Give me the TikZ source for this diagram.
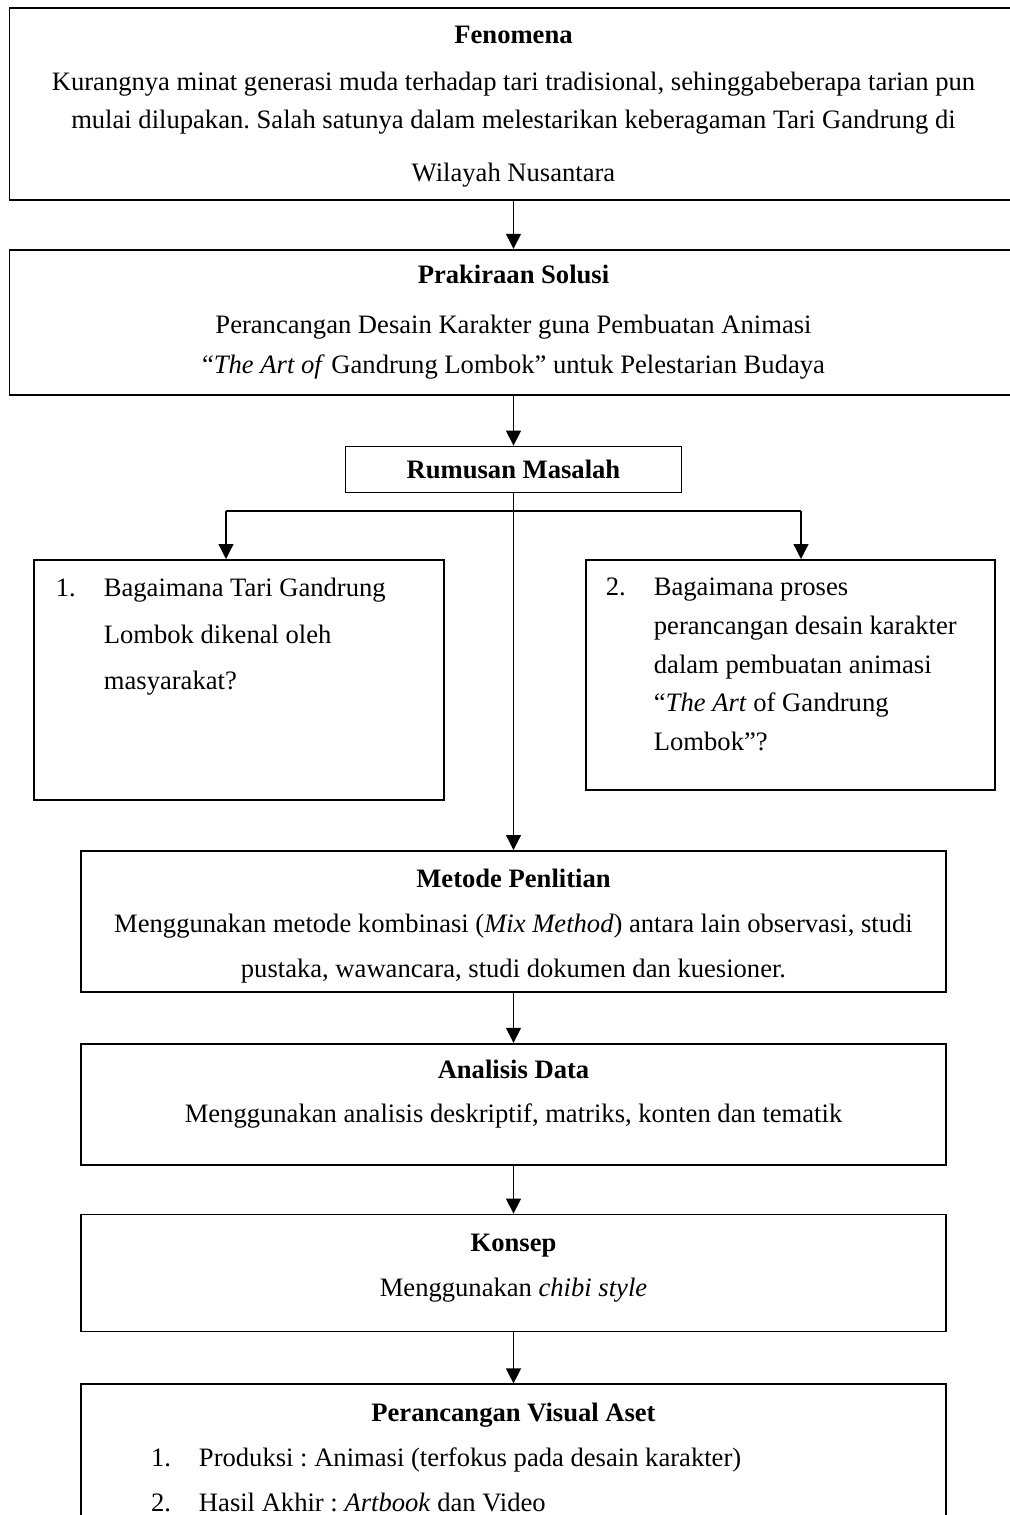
\documentclass[tikz,border=0pt]{standalone}
\usepackage{fontspec}
\setmainfont{Liberation Serif}
\usetikzlibrary{arrows.meta, positioning}
\frenchspacing

\newcommand{\butir}[1]{\makebox[24pt][l]{#1}}
\newcommand{\lanjut}{\hspace*{24pt}}
\newcommand{\ruang}[1]{\rule[-#1]{0pt}{#1}}

\tikzset{
    kotak/.style={rectangle, draw, line width=0.9pt, inner sep=0pt, align=center,
        font=\fontsize{13.3pt}{19pt}\selectfont},
    daftar/.style={kotak, align=flush left, execute at begin node={\parindent=0pt}},
    panah/.style={-{Triangle[width=7.5pt, length=7.5pt]}, line width=0.65pt},
    garis/.style={line width=0.65pt}
}

\begin{document}
\begin{tikzpicture}[x=0.5pt, y=-0.5pt]
    \useasboundingbox (0,0) rectangle (1009,1515);

    \node[kotak, anchor=north, minimum width=504pt, minimum height=96pt] (fenomena) at (513.5,7)
        {\rule{0pt}{11.9pt}\textbf{Fenomena}\\[4.5pt]
         Kurangnya minat generasi muda terhadap tari tradisional, sehinggabeberapa tarian pun\\
         mulai dilupakan. Salah satunya dalam melestarikan keberagaman Tari Gandrung di\\[7.5pt]
         Wilayah Nusantara};
    \node[kotak, below=24pt of fenomena, minimum width=504pt, minimum height=72.5pt] (solusi)
        {\textbf{Prakiraan Solusi}\\[6pt]
         Perancangan Desain Karakter guna Pembuatan Animasi\\[1pt]
         “\textit{The Art of} Gandrung Lombok” untuk Pelestarian Budaya};
    \node[kotak, below=25pt of solusi, minimum width=168pt, minimum height=23pt] (rumusan)
        {\textbf{Rumusan Masalah}};

    \node[daftar, anchor=north west, text width=183pt, inner xsep=11pt, minimum height=120pt] (masalah1) at (33,559)
        {\butir{1.}Bagaimana Tari Gandrung\\[4.5pt]
         \lanjut Lombok dikenal oleh\\[4pt]
         \lanjut masyarakat?\ruang{46.6pt}};
    \node[daftar, anchor=north west, text width=184.5pt, inner xsep=10pt, minimum height=115pt,
          font=\fontsize{13.3pt}{19.4pt}\selectfont] (masalah2) at (585,559)
        {\butir{2.}Bagaimana proses\\
         \lanjut perancangan desain karakter\\
         \lanjut dalam pembuatan animasi\\
         \lanjut “\textit{The Art} of Gandrung\\
         \lanjut Lombok”?\ruang{10.6pt}};

    \node[kotak, anchor=north, minimum width=432.5pt, minimum height=70.5pt] (metode) at (513.5,850)
        {\rule{0pt}{14.4pt}\textbf{Metode Penlitian}\\[3.5pt]
         Menggunakan metode kombinasi (\textit{Mix Method}) antara lain observasi, studi\\[3.5pt]
         pustaka, wawancara, studi dokumen dan kuesioner.};
    \node[kotak, below=25pt of metode, minimum width=432.5pt, minimum height=60.5pt] (analisis)
        {\textbf{Analisis Data}\\[3pt]
         Menggunakan analisis deskriptif, matriks, konten dan tematik\ruang{12.6pt}};
    \node[kotak, below=24pt of analisis, minimum width=432.5pt, minimum height=58.5pt] (konsep)
        {\textbf{Konsep}\\[3.5pt]
         Menggunakan \textit{chibi style}\ruang{8.1pt}};
    \node[daftar, below=25.5pt of konsep, text width=362.5pt, inner xsep=35pt, minimum height=73.25pt] (perancangan)
        {\makebox[362.5pt][c]{\textbf{Perancangan Visual Aset}}\\[3.5pt]
         \butir{1.}Produksi : Animasi (terfokus pada desain karakter)\\[3.5pt]
         \butir{2.}Hasil Akhir : \textit{Artbook} dan Video};

    % alur utama
    \draw[panah] (fenomena) -- (solusi);
    \draw[panah] (solusi) -- (rumusan);
    \draw[panah] (rumusan) -- (metode);
    \draw[panah] (metode) -- (analisis);
    \draw[panah] (analisis) -- (konsep);
    \draw[panah] (konsep) -- (perancangan);

    % cabang rumusan masalah
    \coordinate (cabangkiri) at (226,511);
    \coordinate (cabangkanan) at (801,511);
    \draw[garis] (cabangkiri) -- (cabangkanan);
    \draw[panah] (cabangkiri) -- (cabangkiri |- masalah1.north);
    \draw[panah] (cabangkanan) -- (cabangkanan |- masalah2.north);
\end{tikzpicture}
\end{document}
